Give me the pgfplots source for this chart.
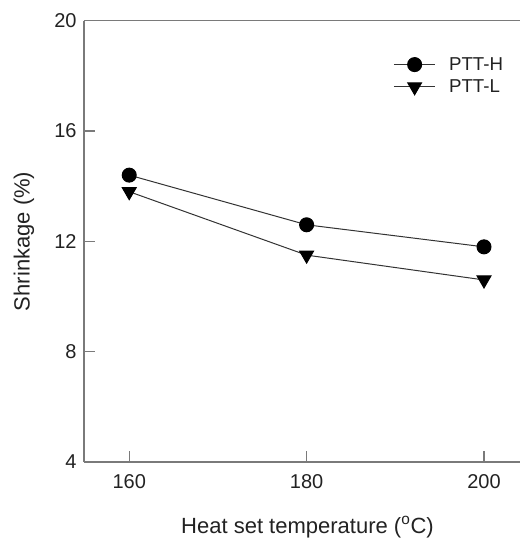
\documentclass[border=0pt]{standalone}
\usepackage{fontspec}
\setmainfont{Liberation Sans}
\usepackage{pgfplots}
\pgfplotsset{compat=1.18}
\definecolor{axgray}{HTML}{7A7A7A}
\definecolor{txt}{HTML}{222222}
\definecolor{ln}{HTML}{333333}
\begin{document}
\begin{tikzpicture}
\begin{axis}[
  scale only axis, width=327pt, height=331pt,
  xmin=154.9, xmax=204.06, ymin=4, ymax=20,
  axis x line=box, axis y line=left,
  axis line style={axgray, line width=0.9pt, -},
  xtick={160,180,200}, ytick={4,8,12,16,20},
  xtick pos=bottom, ytick pos=left,
  tick align=inside, major tick length=8pt,
  tick style={axgray, line width=0.9pt},
  /pgf/number format/assume math mode=true,
  tick label style={font=\fontsize{15}{18}\selectfont, text=txt},
  xticklabel shift=6pt,
  yticklabel shift=2pt,
  xlabel={Heat set temperature (\textsuperscript{o}C)},
  ylabel={Shrinkage (\%)},
  every axis x label/.style={at={(axis description cs:0.5126,-0.161)}, anchor=base,
    font=\fontsize{16.5}{19}\selectfont, text=txt},
  every axis y label/.style={at={(axis description cs:-0.1376,0.5)}, rotate=90, anchor=center,
    font=\fontsize{16.5}{19}\selectfont, text=txt},
  legend style={at={(axis description cs:0.70,0.93)}, anchor=north west, draw=none, fill=none,
    font=\fontsize{14}{16}\selectfont, text=txt, row sep=1.5pt},
  legend cell align=left,
  legend image code/.code={\draw[#1, mark repeat=2, mark phase=2] plot coordinates {(0pt,0pt) (15.5pt,0pt) (31pt,0pt)};\path (39pt,0pt);},
]
\addplot[ln, line width=0.75pt, mark=*, mark size=5.25pt, mark options={fill=black, draw=black}]
  coordinates {(160,14.4) (180,12.6) (200,11.8)};
\addlegendentry{PTT-H}
\addplot[ln, line width=0.75pt, mark=triangle*, mark size=6pt, mark options={fill=black, draw=black, rotate=180}]
  coordinates {(160,13.8) (180,11.5) (200,10.6)};
\addlegendentry{PTT-L}
\end{axis}
\pgfresetboundingbox
\path[use as bounding box] ([shift={(-63pt,-57.75pt)}]current axis.south west) rectangle ([shift={(0pt,15.5pt)}]current axis.north east);
\end{tikzpicture}
\end{document}
